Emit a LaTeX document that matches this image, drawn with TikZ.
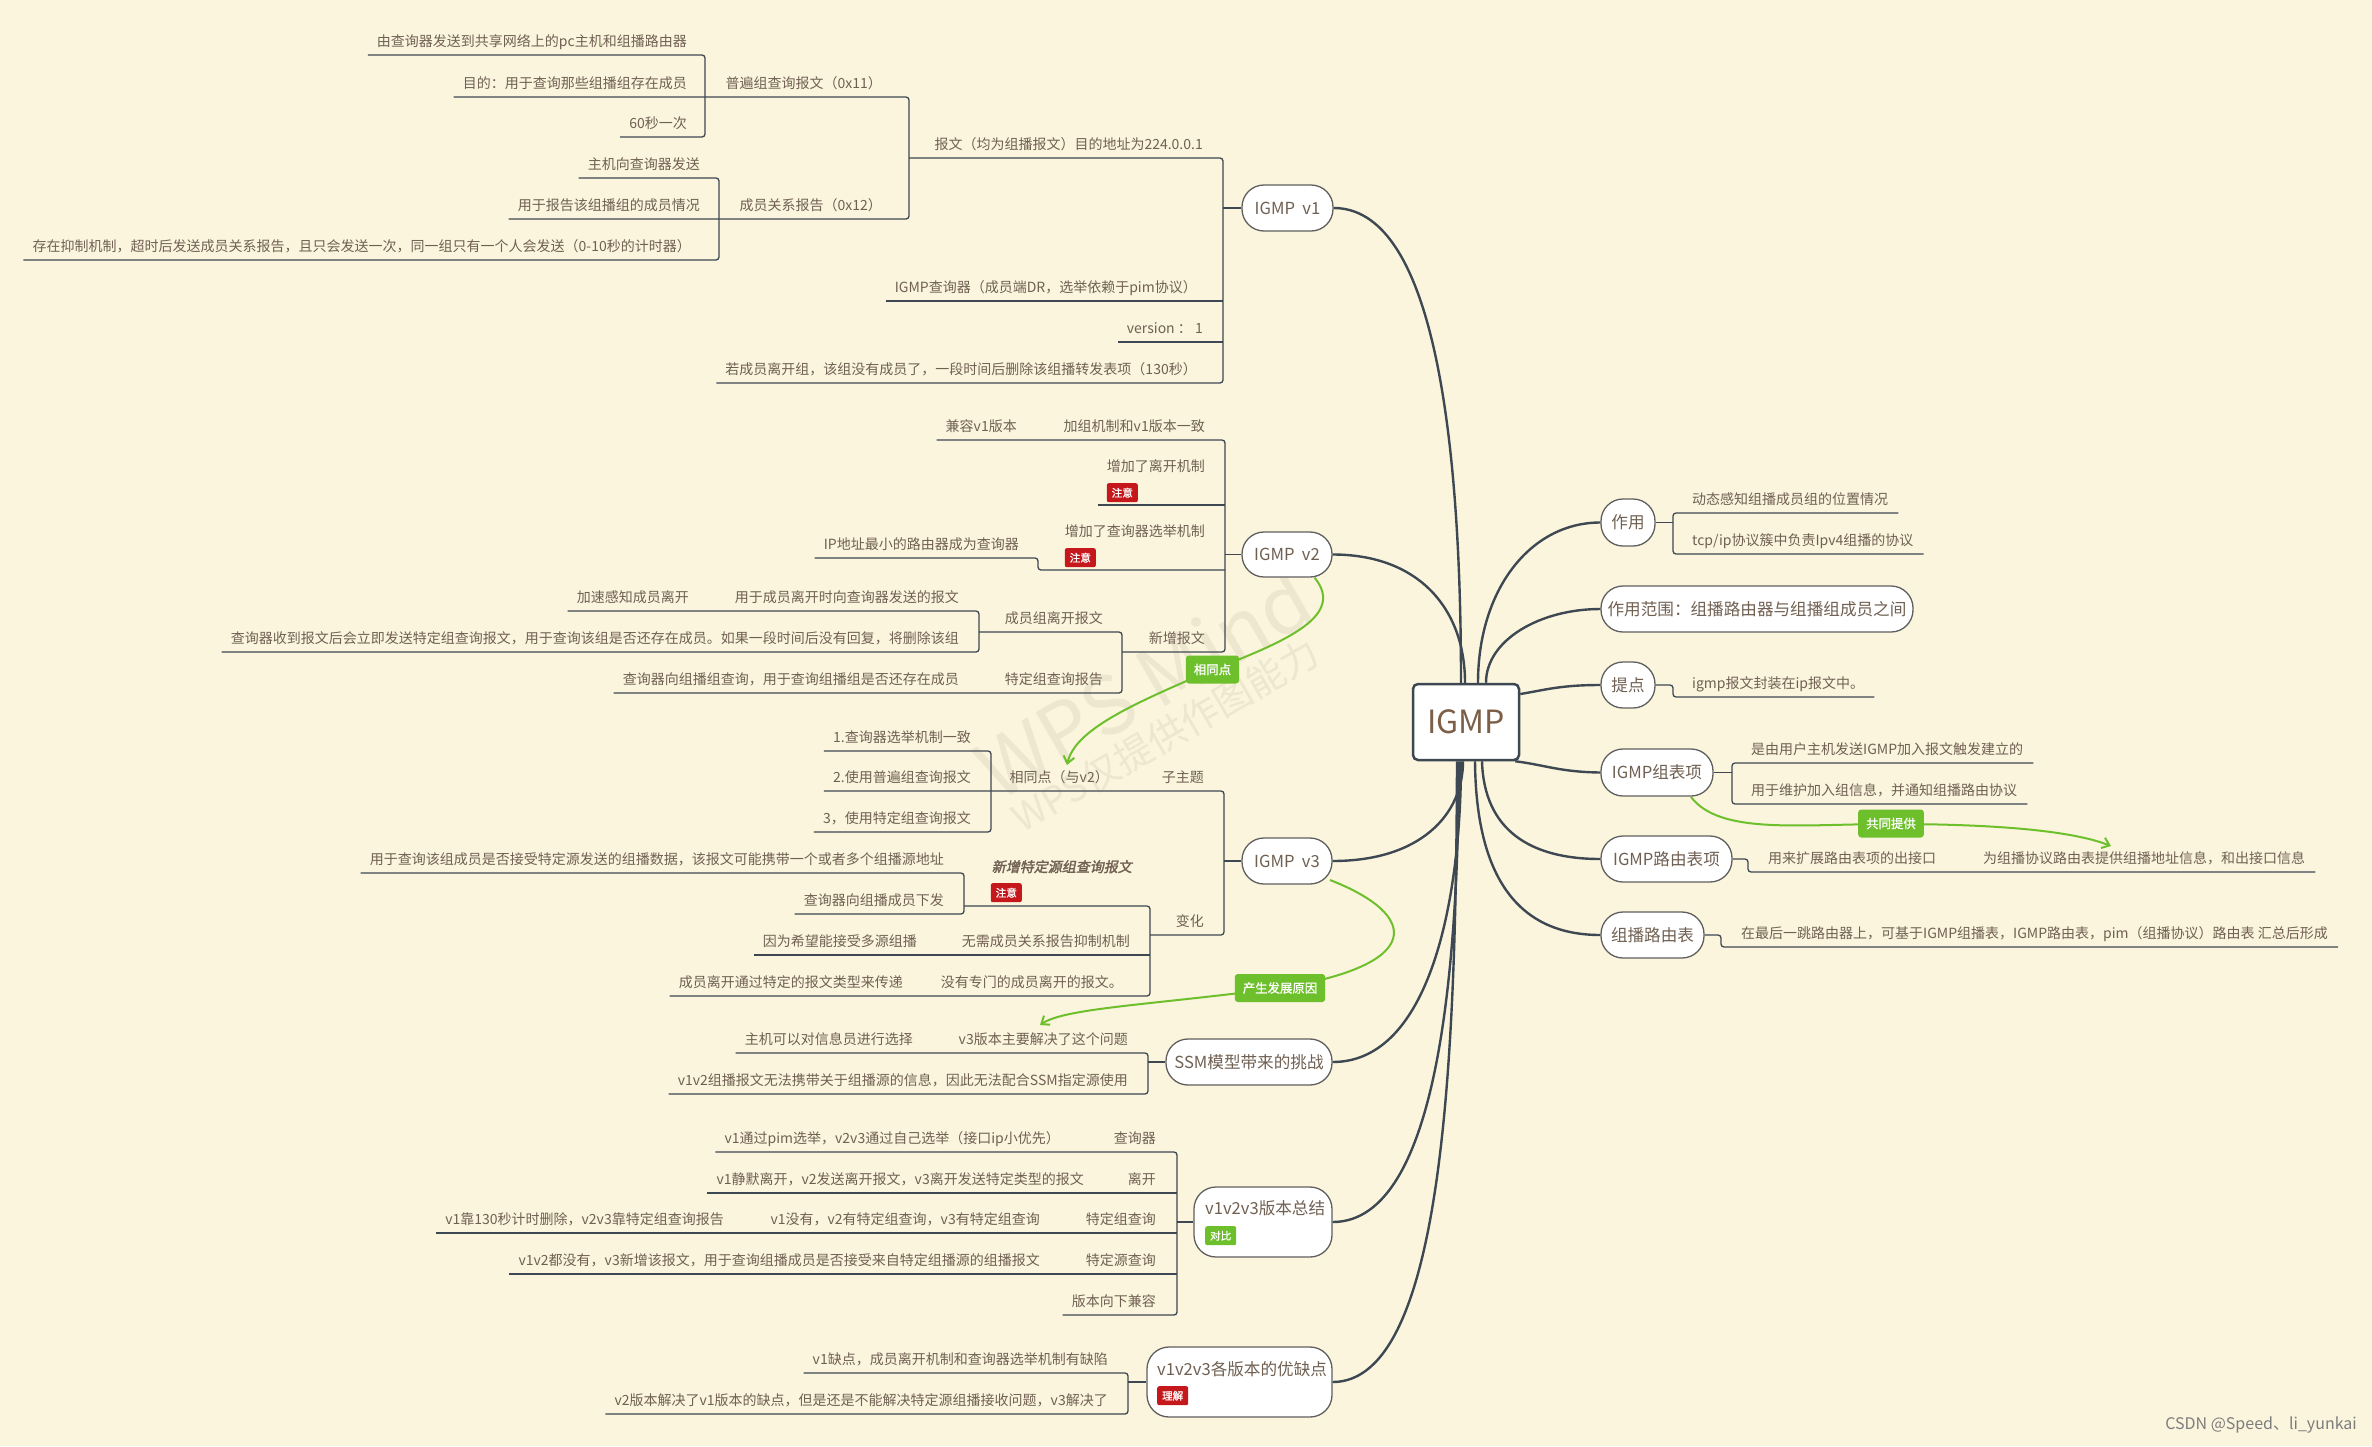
\documentclass[tikz,border=0pt]{standalone}
\usepackage{fontspec}
\setmainfont{Noto Sans CJK SC}
\newfontfamily\cjkbi[FakeSlant=0.2,FakeBold=2]{Noto Sans CJK SC}
\newfontfamily\cjkb[FakeBold=1.2]{Noto Sans CJK SC}
\usetikzlibrary{calc,arrows.meta}
\definecolor{bg}{RGB}{251,245,221}
\definecolor{txc}{RGB}{112,96,82}
\definecolor{igc}{RGB}{125,95,72}
\definecolor{lnc}{RGB}{62,72,82}
\definecolor{gr}{RGB}{110,191,44}
\definecolor{rd}{RGB}{196,24,28}
\definecolor{wm}{RGB}{238,231,208}
\definecolor{bd}{RGB}{95,95,95}
\definecolor{csd}{RGB}{125,125,125}
\tikzset{
 tx/.style={font=\fontsize{14}{16}\selectfont, text=txc, inner sep=0pt},
 ln/.style={draw=lnc, line width=1.3pt},
 rc/.style={rounded corners=3pt},
 br/.style={draw=lnc, line width=2.4pt},
 bn/.style={draw=bd, line width=1.3pt, fill=white, rounded corners=22pt, inner sep=0pt, text=txc, font=\fontsize{16.6}{18}\selectfont},
 badge/.style={fill=rd, text=white, rounded corners=2pt, inner sep=0pt, minimum width=31pt, minimum height=19pt, font=\cjkb\fontsize{10.6}{11}\selectfont},
 glab/.style={fill=gr, text=white, rounded corners=3pt, inner xsep=8pt, inner ysep=0pt, minimum height=28pt, font=\cjkb\fontsize{12.4}{13}\selectfont},
 garr/.style={draw=gr, line width=2pt, -{Straight Barb[length=7pt,width=11pt]}},
}
\newcommand\tpr[4]{\node[tx,anchor=base east] (#1) at (#2,{#3-8.5}) {#4};
  \coordinate (#1L) at ($(#1.base west)+(-9,8.5)$);}
\newcommand\tpl[4]{\node[tx,anchor=base west] (#1) at (#2,{#3-8.5}) {#4};
  \coordinate (#1R) at ($(#1.base east)+(10,8.5)$);}
\begin{document}
\begin{tikzpicture}[x=1pt,y=-1pt]
\fill[bg] (0,0) rectangle (2372,1446);
\useasboundingbox (0,0) rectangle (2372,1446);
% watermark
\node[rotate=30, text=wm, font=\fontsize{80}{80}\selectfont, inner sep=0pt] (wm1) at (1143,683) {WPS Mind};
\node[rotate=30, text=wm, font=\fontsize{38}{38}\selectfont, inner sep=0pt] (wm2) at (1165,735) {WPS仅提供作图能力};

% central and branch nodes
\node[draw=lnc, line width=2.5pt, fill=white, rounded corners=5pt, minimum width=106pt, minimum height=76pt, inner sep=0pt, text=igc, font=\fontsize{32}{34}\selectfont] (igmp) at (1466,722) {IGMP};
\node[bn, minimum width=91pt, minimum height=46pt] (v1) at (1287.5,208) {IGMP\ \ v1};
\node[bn, minimum width=90pt, minimum height=45pt] (v2) at (1287,554.5) {IGMP\ \ v2};
\node[bn, minimum width=90pt, minimum height=46pt] (v3) at (1287,861) {IGMP\ \ v3};
\node[bn, minimum width=166pt, minimum height=46pt] (ssm) at (1249,1062) {SSM模型带来的挑战};
\node[bn, minimum width=138pt, minimum height=70pt] (zj) at (1263,1222) {};
\node[bn, minimum width=185pt, minimum height=70pt] (yq) at (1239.5,1382) {};
\node[bn, minimum width=54pt, minimum height=47pt] (zy) at (1628,522.5) {作用};
\node[bn, minimum width=312pt, minimum height=46pt] (fw) at (1757,609) {作用范围：组播路由器与组播组成员之间};
\node[bn, minimum width=54pt, minimum height=46pt] (td) at (1628,685) {提点};
\node[bn, minimum width=112pt, minimum height=47pt] (zb) at (1657,772.5) {IGMP组表项};
\node[bn, minimum width=131pt, minimum height=46pt] (ly) at (1666.5,859) {IGMP路由表项};
\node[bn, minimum width=103pt, minimum height=46pt] (zl) at (1652.5,935) {组播路由表};
\node[anchor=base west, inner sep=0pt, text=txc, font=\fontsize{16.6}{18}\selectfont] (zjt) at (1205,1214) {v1v2v3版本总结};
\node[badge, fill=gr, anchor=north west] (zjb) at (1205,1226) {对比};
\node[anchor=base west, inner sep=0pt, text=txc, font=\fontsize{16.6}{18}\selectfont] (yqt) at (1157,1375) {v1v2v3各版本的优缺点};
\node[badge, anchor=north west] (yqb) at (1157,1386) {理解};

% main curves
\draw[br] (v1.east) .. controls (1430,208) and (1461,420) .. ($(igmp.north)+(-5,0)$);
\draw[br] (v2.east) .. controls (1420,554.5) and (1465,610) .. ($(igmp.north)+(-1,0)$);
\draw[br] (v3.east) .. controls (1420,861) and (1463,815) .. ($(igmp.south)+(-3,0)$);
\draw[br] (ssm.east) .. controls (1430,1062) and (1461,900) .. ($(igmp.south)+(-5,0)$);
\draw[br] (zj.east) .. controls (1440,1222) and (1458,960) .. ($(igmp.south)+(-7,0)$);
\draw[br] (yq.east) .. controls (1445,1382) and (1456,1050) .. ($(igmp.south)+(-9,0)$);
\draw[br] (zy.west) .. controls (1530,522.5) and (1478,590) .. ($(igmp.north)+(12,0)$);
\draw[br] (fw.west) .. controls (1540,609) and (1486,640) .. ($(igmp.north)+(20,0)$);
\draw[br] (td.west) .. controls (1560,685) and (1545,690) .. ($(igmp.east)+(0,-28)$);
\draw[br] (zb.west) .. controls (1560,772) and (1545,765) .. ($(igmp.south east)+(-5,0)$);
\draw[br] (ly.west) .. controls (1530,859) and (1484,830) .. ($(igmp.south)+(16,0)$);
\draw[br] (zl.west) .. controls (1520,935) and (1476,880) .. ($(igmp.south)+(9,0)$);

% ---------- IGMP v1 ----------
\tpr{a1}{687}{55}{由查询器发送到共享网络上的pc主机和组播路由器}
\tpr{a2}{687}{97}{目的：用于查询那些组播组存在成员}
\tpr{a3}{687}{137}{60秒一次}
\tpr{a4}{882}{97}{普遍组查询报文（0x11）}
\tpr{b1}{700}{178}{主机向查询器发送}
\tpr{b2}{700}{219}{用于报告该组播组的成员情况}
\tpr{b3}{691}{260}{存在抑制机制，超时后发送成员关系报告，且只会发送一次，同一组只有一个人会发送（0-10秒的计时器）}
\tpr{b4}{882}{219}{成员关系报告（0x12）}
\tpr{c1}{1203}{158}{报文（均为组播报文）目的地址为224.0.0.1}
\tpr{c2}{1197}{301}{IGMP查询器（成员端DR，选举依赖于pim协议）}
\tpr{c3}{1203}{342}{version ： 1}
\tpr{c4}{1197}{383}{若成员离开组，该组没有成员了，一段时间后删除该组播转发表项（130秒）}
\draw[ln,rc] (a1L) -- (705,55) -- (705,137) -- (a3L);
\draw[ln,rc] (a2L) -- (909,97) -- (909,219) -- (b2L);
\draw[ln,rc] (b1L) -- (719,178) -- (719,260) -- (b3L);
\draw[ln,rc] (909,158) -- (1223,158) -- (1223,383) -- (c4L);
\draw[ln] (c2L) -- (1223,301);
\draw[ln] (c3L) -- (1223,342);
\draw[ln] (1223,208) -- (v1.west);

% ---------- IGMP v2 ----------
\tpr{d1}{1017}{440}{兼容v1版本}
\tpr{d2}{1205}{440}{加组机制和v1版本一致}
\node[tx,anchor=base east] (d3) at (1205,471) {增加了离开机制};
\node[badge,anchor=north west] (d3b) at ($(d3.base west)+(0,12)$) {注意};
\coordinate (d3L) at ($(d3.base west)+(-9,34)$);
\node[tx,anchor=base east] (d4) at (1205,536) {增加了查询器选举机制};
\node[badge,anchor=north west] (d4b) at ($(d4.base west)+(0,12)$) {注意};
\tpr{d5}{1019}{558}{IP地址最小的路由器成为查询器}
\tpr{d6}{1205}{652}{新增报文}
\tpr{d7}{1103}{632}{成员组离开报文}
\tpr{d8}{1103}{693}{特定组查询报告}
\tpr{d9}{959}{611}{用于成员离开时向查询器发送的报文}
\tpr{d11}{689}{611}{加速感知成员离开}
\tpr{d12}{959}{652}{查询器收到报文后会立即发送特定组查询报文，用于查询该组是否还存在成员。如果一段时间后没有回复，将删除该组}
\tpr{d10}{959}{693}{查询器向组播组查询，用于查询组播组是否还存在成员}
\draw[ln,rc] (d1L) -- (1225,440) -- (1225,652) -- (1122,652);
\draw[ln] (d3L) -- (1225,505);
\draw[ln,rc] (d5L) -- (1038,558) -- (1038,570) -- (1225,570);
\draw[ln,rc] (979,632) -- (1122,632) -- (1122,693) -- (d10L);
\draw[ln,rc] (d11L) -- (979,611) -- (979,652) -- (d12L);
\draw[ln] (1225,554.5) -- (v2.west);

% ---------- IGMP v3 ----------
\tpr{e1}{971}{751}{1.查询器选举机制一致}
\tpr{e2}{971}{791}{2.使用普遍组查询报文}
\tpr{e3}{971}{832}{3，使用特定组查询报文}
\tpr{e4}{1109}{791}{相同点（与v2）}
\tpr{e5}{1204}{791}{子主题}
\tpr{e6}{944}{873}{用于查询该组成员是否接受特定源发送的组播数据，该报文可能携带一个或者多个组播源地址}
\tpr{e7}{944}{914}{查询器向组播成员下发}
\node[tx,anchor=base east,font=\cjkbi\fontsize{14}{16}\selectfont] (e8) at (1132,872) {新增特定源组查询报文};
\node[badge,anchor=north west] (e8b) at ($(e8.base west)+(-1,11)$) {注意};
\tpr{e9}{917}{955}{因为希望能接受多源组播}
\tpr{e10}{1130}{955}{无需成员关系报告抑制机制}
\tpr{e11}{903}{996}{成员离开通过特定的报文类型来传递}
\tpr{e12}{1123}{996}{没有专门的成员离开的报文。}
\tpr{e13}{1204}{935}{变化}
\draw[ln,rc] (e1L) -- (991,751) -- (991,832) -- (e3L);
\draw[ln,rc] (e2L) -- (1224,791) -- (1224,935) -- (1150,935);
\draw[ln,rc] (e6L) -- (964,873) -- (964,914) -- (e7L);
\draw[ln,rc] (964,906) -- (1150,906) -- (1150,996) -- (e11L);
\draw[ln] (e9L) -- (1150,955);
\draw[ln] (1224,861) -- (v3.west);

% ---------- SSM ----------
\tpr{f1}{913}{1053}{主机可以对信息员进行选择}
\tpr{f2}{1128}{1053}{v3版本主要解决了这个问题}
\tpr{f3}{1128}{1094}{v1v2组播报文无法携带关于组播源的信息，因此无法配合SSM指定源使用}
\draw[ln,rc] (f1L) -- (1148,1053) -- (1148,1094) -- (f3L);
\draw[ln] (1148,1062) -- (ssm.west);

% ---------- summary ----------
\tpr{g1}{1060}{1152}{v1通过pim选举，v2v3通过自己选举（接口ip小优先）}
\tpr{g2}{1156}{1152}{查询器}
\tpr{g3}{1084}{1193}{v1静默离开，v2发送离开报文，v3离开发送特定类型的报文}
\tpr{g4}{1156}{1193}{离开}
\tpr{g5}{724}{1233}{v1靠130秒计时删除，v2v3靠特定组查询报告}
\tpr{g6}{1040}{1233}{v1没有，v2有特定组查询，v3有特定组查询}
\tpr{g7}{1156}{1233}{特定组查询}
\tpr{g8}{1040}{1274}{v1v2都没有，v3新增该报文，用于查询组播成员是否接受来自特定组播源的组播报文}
\tpr{g9}{1156}{1274}{特定源查询}
\tpr{g10}{1156}{1315}{版本向下兼容}
\draw[ln,rc] (g1L) -- (1177,1152) -- (1177,1315) -- (g10L);
\draw[ln] (g3L) -- (1177,1193);
\draw[ln] (g5L) -- (1177,1233);
\draw[ln] (g8L) -- (1177,1274);
\draw[ln] (1177,1222) -- (zj.west);

% ---------- pros/cons ----------
\tpr{h1}{1108}{1373}{v1缺点，成员离开机制和查询器选举机制有缺陷}
\tpr{h2}{1108}{1414}{v2版本解决了v1版本的缺点，但是还是不能解决特定源组播接收问题，v3解决了}
\draw[ln,rc] (h1L) -- (1128,1373) -- (1128,1414) -- (h2L);
\draw[ln] (1128,1382) -- (yq.west);

% ---------- right side ----------
\tpl{i1}{1692}{513}{动态感知组播成员组的位置情况}
\tpl{i2}{1692}{554}{tcp/ip协议簇中负责Ipv4组播的协议}
\tpl{i3}{1692}{697}{igmp报文封装在ip报文中。}
\tpl{i4}{1751}{763}{是由用户主机发送IGMP加入报文触发建立的}
\tpl{i5}{1751}{804}{用于维护加入组信息，并通知组播路由协议}
\tpl{i6}{1768}{872}{用来扩展路由表项的出接口}
\tpl{i7}{1983}{872}{为组播协议路由表提供组播地址信息，和出接口信息}
\tpl{i8}{1741}{947}{在最后一跳路由器上，可基于IGMP组播表，IGMP路由表，pim（组播协议）路由表 汇总后形成}
\draw[ln,rc] (i1R) -- (1673,513) -- (1673,554) -- (i2R);
\draw[ln] (zy.east) -- (1673,522.5);
\draw[ln,rc] (td.east) -- (1673,685) -- (1673,697) -- (i3R);
\draw[ln,rc] (i4R) -- (1732,763) -- (1732,804) -- (i5R);
\draw[ln] (zb.east) -- (1732,772.5);
\draw[ln,rc] (ly.east) -- (1748,859) -- (1748,872) -- (i7R);
\draw[ln,rc] (zl.east) -- (1721,935) -- (1721,947) -- (i8R);

% ---------- green relations ----------
\draw[garr] (v2.-40) .. controls (1345,615) and (1290,640) .. (1212,670) .. controls (1130,705) and (1075,730) .. (1067,765);
\node[glab] (l1) at (1212.5,669.5) {相同点};
\draw[garr] (1330,880) .. controls (1420,915) and (1425,965) .. (1280,988) .. controls (1150,1005) and (1065,1008) .. (1040,1025);
\node[glab] (l2) at (1280,988) {产生发展原因};
\draw[garr] (1691,797) .. controls (1720,835) and (1800,824) .. (1891,824) .. controls (1990,824) and (2070,830) .. (2111,846);
\node[glab] (l3) at (1891,823.5) {共同提供};

\node[anchor=east, text=csd, font=\fontsize{16}{17}\selectfont, inner sep=0pt] (csdn) at (2357,1425) {CSDN @Speed、li\_yunkai};
\end{tikzpicture}
\end{document}
